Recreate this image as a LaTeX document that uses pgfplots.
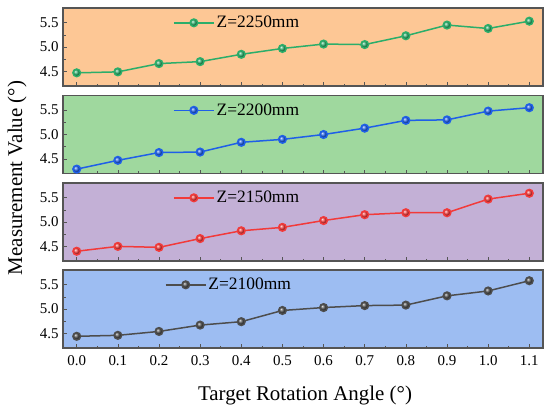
\documentclass[border=0pt]{standalone}
\usepackage{pgfplots}
\pgfplotsset{compat=1.18}
\usepackage{fontspec}
\setmainfont{Liberation Serif}
\definecolor{bgA}{HTML}{FDC795}
\definecolor{bgB}{HTML}{9FD89E}
\definecolor{bgC}{HTML}{C3B0D6}
\definecolor{bgD}{HTML}{9DBDF2}
\definecolor{lnA}{HTML}{2BAE6A}
\definecolor{lnB}{HTML}{1F5FE8}
\definecolor{lnC}{HTML}{F23A3A}
\definecolor{lnD}{HTML}{4D4D4D}
\definecolor{frame}{HTML}{555555}
\pgfplotsset{
  panel/.style={
    scale only axis, width=480bp, height=78bp,
    xmin=-0.0333, xmax=1.1333, ymin=4.2, ymax=5.8,
    xtick={0,0.1,...,1.1}, minor x tick num=1,
    ytick={4.5,5.0,5.5}, minor y tick num=1,
    tick align=inside, xtick pos=bottom, ytick pos=left,
    major tick length=4bp, minor tick length=2.5bp,
    tick style={frame, line width=0.6bp},
    axis line style={frame, line width=1.1bp},
    /pgf/number format/assume math mode=true,
    /pgf/number format/.cd, fixed, fixed zerofill, precision=1, /pgfplots/.cd,
    tick label style={font=\fontsize{15}{17}\selectfont},
    yticklabel style={xshift=-1bp},
    xticklabel style={yshift=-4bp},
    legend style={at={(0.229,0.81)}, anchor=west, draw=none, fill=none,
      inner sep=0pt, font=\fontsize{17.5}{19}\selectfont},
    legend image code/.code={%
      \draw[##1, mark=none] (0bp,0bp) -- (40bp,0bp);
      \draw[##1, only marks] plot coordinates {(20bp,0bp)};},
  },
  ser/.style={line width=1.5bp, mark=ball, mark size=3.8bp, mark options={ball color=#1}, color=#1},
}
\begin{document}
\begin{tikzpicture}
\path[use as bounding box] (0,0) rectangle (550bp,-413bp);
% Panel 1
\begin{axis}[panel, at={(63bp,-86bp)}, anchor=south west, axis background/.style={fill=bgA}, xticklabels={}]
\addplot[ser=lnA] coordinates {(0,4.47) (0.1,4.49) (0.2,4.66) (0.3,4.70) (0.4,4.85) (0.5,4.97) (0.6,5.06) (0.7,5.05) (0.8,5.23) (0.9,5.45) (1.0,5.38) (1.1,5.53)};
\addlegendentry{Z=2250mm}
\end{axis}
% Panel 2
\begin{axis}[panel, at={(63bp,-173.5bp)}, anchor=south west, axis background/.style={fill=bgB}, xticklabels={}]
\addplot[ser=lnB] coordinates {(0,4.29) (0.1,4.47) (0.2,4.63) (0.3,4.64) (0.4,4.84) (0.5,4.90) (0.6,5.00) (0.7,5.13) (0.8,5.29) (0.9,5.30) (1.0,5.48) (1.1,5.55)};
\addlegendentry{Z=2200mm}
\end{axis}
% Panel 3
\begin{axis}[panel, at={(63bp,-261bp)}, anchor=south west, axis background/.style={fill=bgC}, xticklabels={}]
\addplot[ser=lnC] coordinates {(0,4.40) (0.1,4.50) (0.2,4.48) (0.3,4.66) (0.4,4.82) (0.5,4.89) (0.6,5.03) (0.7,5.15) (0.8,5.19) (0.9,5.19) (1.0,5.47) (1.1,5.59)};
\addlegendentry{Z=2150mm}
\end{axis}
% Panel 4
\begin{axis}[panel, at={(63bp,-348bp)}, anchor=south west, axis background/.style={fill=bgD},
  legend style={at={(0.212,0.81)}}]
\addplot[ser=lnD] coordinates {(0,4.44) (0.1,4.46) (0.2,4.54) (0.3,4.67) (0.4,4.74) (0.5,4.97) (0.6,5.03) (0.7,5.07) (0.8,5.08) (0.9,5.27) (1.0,5.37) (1.1,5.58)};
\addlegendentry{Z=2100mm}
\end{axis}
\node[rotate=90, font=\fontsize{21}{24}\selectfont] at (17bp,-178bp) {Measurement Value (°)};
\node[font=\fontsize{21}{24}\selectfont] at (305bp,-395bp) {Target Rotation Angle (°)};
\end{tikzpicture}
\end{document}
